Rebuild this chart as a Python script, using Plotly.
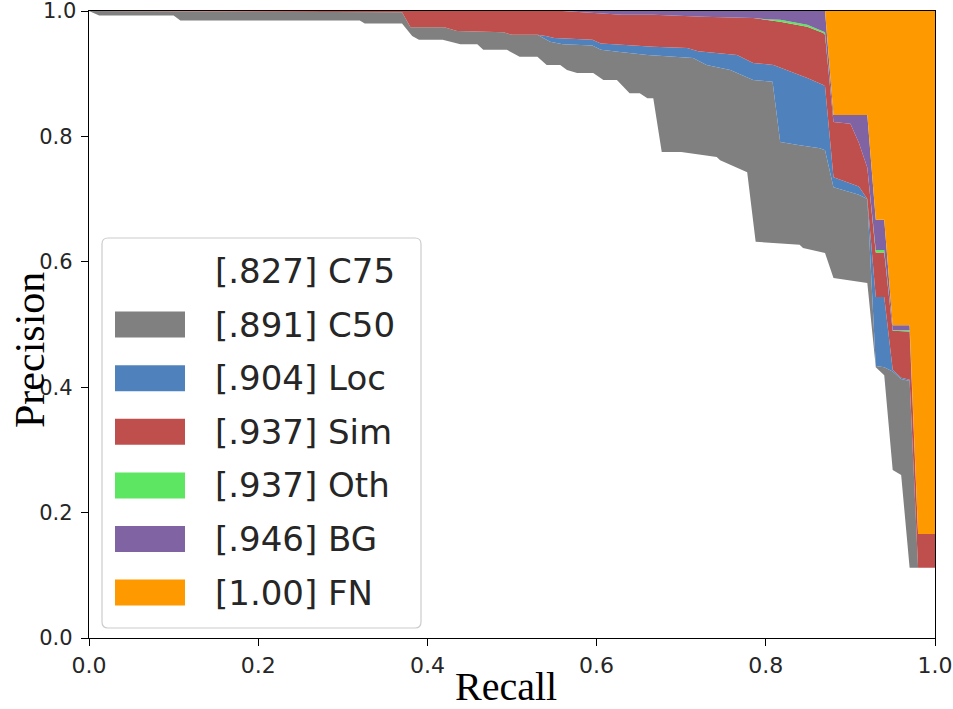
import plotly.graph_objects as go

# curves: recall breakpoints and precision per error type
c75_r = [0, 0.012, 0.10, 0.108, 0.32, 0.326, 0.37, 0.382, 0.39, 0.418, 0.439, 0.459, 0.466, 0.494,
         0.509, 0.53, 0.541, 0.557, 0.565, 0.577, 0.596, 0.608, 0.624, 0.639, 0.651, 0.66, 0.667,
         0.677, 0.70, 0.742, 0.746, 0.778, 0.788, 0.84, 0.844, 0.868, 0.87, 0.88, 0.92, 0.93, 0.94,
         0.95, 0.96, 0.97, 1.0]
c75_p = [1.0, 0.993, 0.993, 0.985, 0.985, 0.980, 0.980, 0.960, 0.954, 0.954, 0.947, 0.947, 0.938, 0.938,
         0.927, 0.927, 0.914, 0.914, 0.906, 0.901, 0.901, 0.890, 0.890, 0.869, 0.869, 0.861, 0.861,
         0.775, 0.775, 0.767, 0.762, 0.743, 0.632, 0.627, 0.622, 0.614, 0.614, 0.574, 0.566, 0.432, 0.419,
         0.268, 0.260, 0.112, 0.112]

c50_r = [0, 0.37, 0.38, 0.42, 0.435, 0.49, 0.50, 0.53, 0.545, 0.56, 0.595, 0.605, 0.625, 0.66, 0.714,
         0.73, 0.758, 0.785, 0.808, 0.817, 0.84, 0.864, 0.87, 0.88, 0.91, 0.92, 0.93, 0.94, 0.95, 0.96,
         0.97, 0.98, 1.0]
c50_p = [1.0, 0.998, 0.974, 0.974, 0.968, 0.966, 0.962, 0.962, 0.951, 0.947, 0.945, 0.938, 0.935, 0.930, 0.925,
         0.914, 0.906, 0.890, 0.887, 0.791, 0.786, 0.781, 0.778, 0.719, 0.707, 0.700, 0.434, 0.432, 0.425, 0.413,
         0.410, 0.112, 0.112]

loc_r = [0, 0.37, 0.38, 0.42, 0.435, 0.49, 0.50, 0.53, 0.54, 0.55, 0.595, 0.605, 0.62, 0.667, 0.707,
         0.72, 0.766, 0.785, 0.809, 0.825, 0.849, 0.868, 0.87, 0.88, 0.91, 0.92, 0.93, 0.94, 0.95, 0.96,
         0.97, 0.98, 1.0]
loc_p = [1.0, 0.998, 0.974, 0.974, 0.968, 0.966, 0.962, 0.962, 0.960, 0.957, 0.954, 0.948, 0.947, 0.943, 0.941,
         0.936, 0.930, 0.917, 0.914, 0.906, 0.893, 0.882, 0.880, 0.735, 0.720, 0.700, 0.544, 0.544, 0.428, 0.415,
         0.412, 0.112, 0.112]

sim_r = [0, 0.56, 0.63, 0.667, 0.726, 0.785, 0.817, 0.849, 0.868, 0.87, 0.88, 0.90, 0.91, 0.92, 0.93,
         0.94, 0.95, 0.96, 0.97, 0.98, 1.0]
sim_p = [1.0, 1.0, 0.994, 0.994, 0.991, 0.989, 0.983, 0.975, 0.965, 0.962, 0.823, 0.820, 0.790, 0.750, 0.615,
         0.615, 0.490, 0.490, 0.489, 0.166, 0.166]

oth_r = [0, 0.56, 0.63, 0.667, 0.726, 0.785, 0.80, 0.817, 0.849, 0.868, 0.87, 0.88, 0.90, 0.91, 0.92,
         0.93, 0.94, 0.95, 0.97, 0.98, 1.0]
oth_p = [1.0, 1.0, 0.994, 0.994, 0.991, 0.989, 0.987, 0.986, 0.978, 0.968, 0.966, 0.823, 0.820, 0.790, 0.750,
         0.619, 0.619, 0.491, 0.491, 0.166, 0.166]

bg_r = [0, 0.56, 0.87, 0.88, 0.92, 0.93, 0.94, 0.95, 0.97, 0.98, 1.0]
bg_p = [1.0, 1.0, 1.0, 0.834, 0.834, 0.667, 0.667, 0.499, 0.499, 0.166, 0.166]

fn_r = [0, 1.0]
fn_p = [1.0, 1.0]

labels = ["[.827] C75", "[.891] C50", "[.904] Loc", "[.937] Sim", "[.937] Oth", "[.946] BG", "[1.00] FN"]
colors = ["#ffffff", "#808080", "#4f82bd", "#bf4f4d", "#5ce661", "#8063a3", "#ff9900"]
tick_vals = [0, 0.2, 0.4, 0.6, 0.8, 1.0]
tick_text = ["0.0", "0.2", "0.4", "0.6", "0.8", "1.0"]

curves = [(c75_r, c75_p), (c50_r, c50_p), (loc_r, loc_p), (sim_r, sim_p),
          (oth_r, oth_p), (bg_r, bg_p), (fn_r, fn_p)]

W, H = 953, 709
L, R, T, B = 89, 18, 11, 71
pw, ph = W - L - R, H - T - B

fig = go.Figure()
for i, (r, p) in enumerate(curves):
    fig.add_trace(go.Scatter(
        x=r, y=p, mode="lines", line=dict(width=0),
        fill="tozeroy" if i == 0 else "tonexty",
        fillcolor=colors[i], showlegend=False, hoverinfo="skip"))


def px_x(x):
    return (x - L) / pw


def px_y(y):
    return (H - B - y) / ph


# legend box drawn by hand (matplotlib style)
bx0, bx1, by0, by1 = px_x(102), px_x(421), px_y(628), px_y(238)
rx, ry = 6 / pw, 6 / ph
box = (f"M {bx0+rx},{by0} L {bx1-rx},{by0} Q {bx1},{by0} {bx1},{by0+ry} "
       f"L {bx1},{by1-ry} Q {bx1},{by1} {bx1-rx},{by1} L {bx0+rx},{by1} "
       f"Q {bx0},{by1} {bx0},{by1-ry} L {bx0},{by0+ry} Q {bx0},{by0} {bx0+rx},{by0} Z")
shapes = [dict(type="path", path=box, xref="paper", yref="paper",
               fillcolor="rgba(255,255,255,0.8)", line=dict(color="#cccccc", width=1.2))]
annotations = []
for k, (lab, col) in enumerate(zip(labels, colors)):
    yc = 271 + 53.6 * k
    if k > 0:
        shapes.append(dict(type="rect", xref="paper", yref="paper",
                           x0=px_x(115), x1=px_x(185), y0=px_y(yc + 13), y1=px_y(yc - 13),
                           fillcolor=col, line=dict(width=0)))
    annotations.append(dict(x=px_x(213), y=px_y(yc), xref="paper", yref="paper",
                            text=lab, showarrow=False, xanchor="left", yanchor="middle",
                            font=dict(family="DejaVu Sans", size=34, color="#262626")))

annotations.append(dict(x=px_x(30), y=px_y(350), xref="paper", yref="paper", text="Precision",
                        textangle=-90, showarrow=False, xanchor="center", yanchor="middle",
                        font=dict(family="Liberation Serif", size=42, color="black")))
annotations.append(dict(x=px_x(506), y=px_y(686), xref="paper", yref="paper", text="Recall",
                        showarrow=False, xanchor="center", yanchor="middle",
                        font=dict(family="Liberation Serif", size=40, color="black")))
# top y tick label sits at the page edge, where plotly drops it; place it by hand
annotations.append(dict(x=0, y=1.0, xref="paper", yref="y", text=tick_text[-1],
                        showarrow=False, xanchor="right", yanchor="middle", xshift=-11,
                        font=dict(family="DejaVu Sans", size=21, color="#262626")))

axis_common = dict(range=[0, 1], tickvals=tick_vals,
                   showgrid=False, zeroline=False, showline=True, mirror=True,
                   linecolor="black", linewidth=1.4, ticks="outside", ticklen=7,
                   tickwidth=1.4, tickcolor="black", automargin=False)

fig.update_layout(
    width=W, height=H,
    margin=dict(l=L, r=R, t=T, b=B),
    plot_bgcolor="white", paper_bgcolor="white",
    xaxis=dict(**axis_common, ticktext=tick_text,
               tickfont=dict(family="DejaVu Sans", size=22, color="#262626")),
    yaxis=dict(**axis_common, ticktext=tick_text[:-1] + [""],
               tickfont=dict(family="DejaVu Sans", size=21, color="#262626"),
               ticklabelstandoff=4),
    shapes=shapes, annotations=annotations,
)

# drop the browser's default page margin so the figure sits at the window corner
fig.write_html("out.html", config={"displayModeBar": False},
               post_script="document.body.style.margin='0px';")
